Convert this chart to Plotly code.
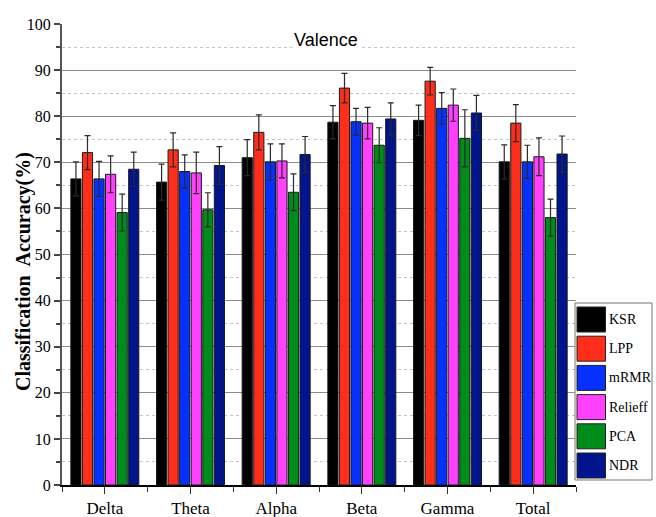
import plotly.graph_objects as go

# Frequency bands and feature-reduction methods
bands = ["Delta", "Theta", "Alpha", "Beta", "Gamma", "Total"]
methods = ["KSR", "LPP", "mRMR", "Relieff", "PCA", "NDR"]
colors = ["#000000", "#ff2e1a", "#0530ff", "#ff40ff", "#008c1a", "#00148c"]

# Mean classification accuracy (%) per method, one value per band
ksr = [66.4, 65.7, 71.0, 78.7, 79.1, 70.1]
lpp = [72.1, 72.7, 76.5, 86.1, 87.6, 78.5]
mrmr = [66.4, 68.0, 70.1, 78.8, 81.7, 70.1]
relieff = [67.4, 67.7, 70.3, 78.5, 82.4, 71.2]
pca = [59.1, 59.7, 63.5, 73.7, 75.2, 58.0]
ndr = [68.5, 69.3, 71.7, 79.4, 80.7, 71.8]

# Standard deviations
ksr_sd = [3.7, 3.9, 3.9, 3.6, 3.3, 3.7]
lpp_sd = [3.7, 3.7, 3.8, 3.2, 3.0, 4.0]
mrmr_sd = [3.8, 3.6, 3.9, 2.9, 3.4, 3.6]
relieff_sd = [4.0, 4.5, 3.7, 3.4, 3.5, 4.1]
pca_sd = [4.0, 3.7, 4.0, 3.8, 6.2, 4.0]
ndr_sd = [3.7, 4.1, 3.9, 3.5, 3.8, 3.9]

means = [ksr, lpp, mrmr, relieff, pca, ndr]
sds = [ksr_sd, lpp_sd, mrmr_sd, relieff_sd, pca_sd, ndr_sd]

xpos = list(range(len(bands)))

fig = go.Figure()
for name, col, m, s in zip(methods, colors, means, sds):
    fig.add_trace(go.Bar(
        x=xpos, y=m, name=name,
        marker=dict(color=col, line=dict(color="#1a1a1a", width=1)),
        error_y=dict(type="data", array=s, visible=True,
                     color="#2a2a2a", thickness=1.2, width=3),
        showlegend=False,
    ))

serif = "Liberation Serif, Times New Roman, serif"
narrow = "Liberation Sans Narrow, Arial Narrow, Liberation Sans, sans-serif"

W, H = 656, 517
ML, MR, MT, MB = 62, 80, 24, 32

fig.update_layout(
    width=W, height=H,
    margin=dict(l=ML, r=MR, t=MT, b=MB),
    paper_bgcolor="white", plot_bgcolor="white",
    barmode="group", bargap=0.19, bargroupgap=0.12,
    font=dict(family=serif, color="black"),
)

fig.update_xaxes(
    automargin=False,
    range=[-0.5, len(bands) - 0.5],
    tickmode="array", tickvals=xpos, ticktext=bands,
    ticks="outside", ticklen=7, tickwidth=1, tickcolor="#333",
    minor=dict(tickmode="linear", tick0=0.5, dtick=1, ticks="outside",
               ticklen=5, tickwidth=1, tickcolor="#333", showgrid=False),
    showline=True, linecolor="black", linewidth=2,
    showgrid=False, zeroline=False,
    tickfont=dict(family=serif, size=17, color="black"),
)

fig.update_yaxes(
    automargin=False,
    range=[0, 100], dtick=10, tick0=0,
    ticks="outside", ticklen=6, tickwidth=1.5, tickcolor="#444",
    showline=True, linecolor="#555", linewidth=2,
    showgrid=True, gridcolor="#8c8c8c", gridwidth=1,
    minor=dict(dtick=5, ticks="outside", ticklen=4, tickcolor="#444",
               showgrid=True, gridcolor="#c4c4c4", griddash="dot", gridwidth=1),
    zeroline=False,
    tickfont=dict(family=serif, size=16, color="black"),
)

pw = W - ML - MR
ph = H - MT - MB


def px(x):
    return (x - ML) / pw


def py(y):
    return 1 - (y - MT) / ph


# Y-axis title
fig.add_annotation(text="<b>Classification  Accuracy(%)</b>", xref="paper", yref="paper",
                   x=px(23), y=py(272), textangle=-90, showarrow=False,
                   xanchor="center", yanchor="middle",
                   font=dict(family=serif, size=20, color="black"))

# Panel title
fig.add_annotation(text="Valence", xref="paper", yref="paper",
                   x=px(326), y=py(40), showarrow=False,
                   xanchor="center", yanchor="middle",
                   font=dict(family=narrow, size=18, color="black"),
                   bgcolor="white")

# Legend box with large colour swatches
lx0, lx1 = 575, 652
ly0, ly1 = 303, 480
fig.add_shape(type="rect", xref="paper", yref="paper",
              x0=px(lx0), x1=px(lx1), y0=py(ly1), y1=py(ly0),
              line=dict(color="#777", width=1), fillcolor="white", layer="above")
for i, (name, col) in enumerate(zip(methods, colors)):
    top = 307 + i * 29.2
    fig.add_shape(type="rect", xref="paper", yref="paper",
                  x0=px(577), x1=px(605.5), y0=py(top + 25), y1=py(top),
                  line=dict(color="#222", width=1), fillcolor=col, layer="above")
    fig.add_annotation(text=name, xref="paper", yref="paper",
                       x=px(607), y=py(top + 12.5), xanchor="left", yanchor="middle",
                       showarrow=False,
                       font=dict(family=serif, size=14, color="black"))

fig.write_html("out.html")
